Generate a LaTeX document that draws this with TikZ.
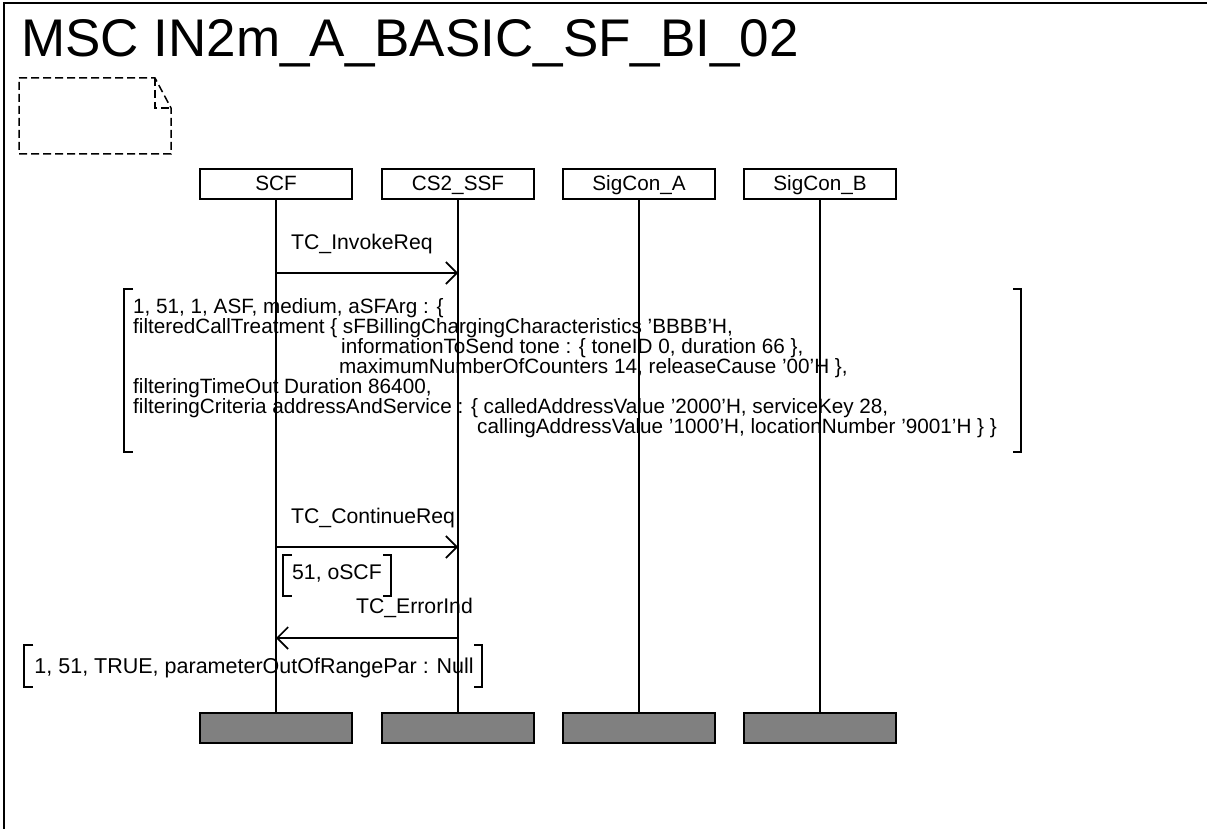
\documentclass[tikz,border=0pt]{standalone}
\usepackage{fontspec}
\setmainfont{Liberation Sans}
\usetikzlibrary{arrows.meta,calc}
\begin{document}
\begin{tikzpicture}[x=1pt,y=-1pt,
  txt/.style={font=\fontsize{20.7}{20}\selectfont, inner sep=0pt},
  lbl/.style={txt, anchor=base west},
  mlbl/.style={font=\fontsize{21.2}{20}\selectfont, inner sep=0pt},
  head/.style={draw, line width=1.7pt, minimum width=152pt, minimum height=30pt, inner sep=0pt, text height=14pt, text depth=0pt, font=\fontsize{20.7}{20}\selectfont},
  tail/.style={draw, line width=1.7pt, fill=black!50, minimum width=152pt, minimum height=30pt, inner sep=0pt},
  life/.style={line width=1.6pt},
  msg/.style={line width=1.6pt, -{Straight Barb[length=11pt,width=22pt,line width=1.6pt]}},
  brk/.style={line width=2pt},
  note/.style={line width=1.5pt, dash pattern=on 8pt off 4pt}
]
\useasboundingbox (0,0) rectangle (1207,829);
\begin{scope}
  \clip (0,0) rectangle (1207,829);
  \draw[line width=2pt] (4,3) rectangle (1240,860);
\end{scope}
% title
\node[anchor=base west, inner sep=0pt, font=\fontsize{53}{60}\selectfont] (title) at (21,57) {MSC IN2m\_A\_BASIC\_SF\_BI\_02};
% comment / note symbol
\draw[note] (19,78) -- (155,78) -- (171,108) -- (171,154) -- (19,154) -- cycle;
\draw[note] (155,78) -- (155,108) -- (171,108);
% instance heads
\node[head] (scf) at (276,184) {SCF};
\node[head] (ssf) at (458,184) {CS2\_SSF};
\node[head] (sca) at (639,184) {SigCon\_A};
\node[head] (scb) at (820,184) {SigCon\_B};
% instance ends
\node[tail] (scfE) at (276,728) {};
\node[tail] (ssfE) at (458,728) {};
\node[tail] (scaE) at (639,728) {};
\node[tail] (scbE) at (820,728) {};
% lifelines
\draw[life] (scf) -- (scfE);
\draw[life] (ssf) -- (ssfE);
\draw[life] (sca) -- (scaE);
\draw[life] (scb) -- (scbE);
% message 1
\coordinate (m1a) at (276,273);
\coordinate (m1b) at (458,273);
\draw[msg] (m1a) -- (m1b);
\node[mlbl, anchor=base west] (m1l) at (291,249) {TC\_InvokeReq};
% parameter block
\node[lbl] (l1) at (133,313) {1, 51, 1, ASF, medium, aSFArg : \{};
\node[lbl] (l2) at (133,333) {filteredCallTreatment \{ sFBillingChargingCharacteristics 'BBBB'H,};
\node[lbl] (l3) at (341,353) {informationToSend tone : \{ toneID 0, duration 66 \},};
\node[lbl] (l4) at (339,373) {maximumNumberOfCounters 14, releaseCause '00'H \},};
\node[lbl] (l5) at (133,393) {filteringTimeOut Duration 86400,};
\node[lbl] (l6) at (133,413) {filteringCriteria addressAndService : \{ calledAddressValue '2000'H, serviceKey 28,};
\node[lbl] (l7) at (477,433) {callingAddressValue '1000'H, locationNumber '9001'H \} \}};
\draw[brk] (133,289) -- (124,289) -- (124,452) -- (133,452);
\draw[brk] (1013,289) -- (1021,289) -- (1021,452) -- (1013,452);
% message 2
\coordinate (m2a) at (276,547);
\coordinate (m2b) at (458,547);
\draw[msg] (m2a) -- (m2b);
\node[mlbl, anchor=base west] (m2l) at (291,523) {TC\_ContinueReq};
\node[mlbl, anchor=base west] (p2) at (292,579) {51, oSCF};
\draw[brk] (292,555) -- (283,555) -- (283,596) -- (292,596);
\draw[brk] (383,555) -- (391,555) -- (391,596) -- (383,596);
% message 3
\coordinate (m3a) at (458,638);
\coordinate (m3b) at (276,638);
\draw[msg] (m3a) -- (m3b);
\node[mlbl, anchor=base east] (m3l) at (473,613) {TC\_ErrorInd};
\node[inner sep=0pt, font=\fontsize{21.5}{20}\selectfont, anchor=base east] (p3) at (474,673) {1, 51, TRUE, parameterOutOfRangePar : Null};
\coordinate (p3t) at (0,645);
\draw[brk] ($(p3.west |- p3t)+(-1,0)$) -- ++(-9,0) -- ++(0,42) -- ++(9,0);
\draw[brk] (474,645) -- (482,645) -- (482,687) -- (474,687);
\end{tikzpicture}
\end{document}
